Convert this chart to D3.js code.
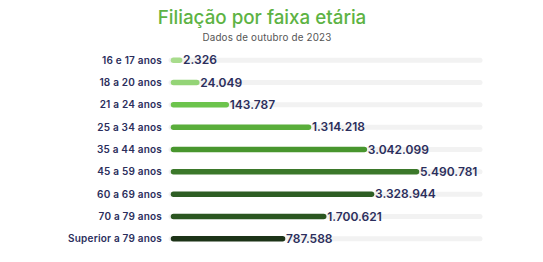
<!DOCTYPE html>
<html>
<head>
<meta charset="utf-8">
<script src="https://cdn.jsdelivr.net/npm/d3@7"></script>
<style>
  body { margin: 0; background: #fff; }
  text { font-family: "Inter", "Noto Sans", sans-serif; }
</style>
</head>
<body>
<div id="chart"></div>
<script>
const categories = ["16 e 17 anos", "18 a 20 anos", "21 a 24 anos", "25 a 34 anos", "35 a 44 anos",
  "45 a 59 anos", "60 a 69 anos", "70 a 79 anos", "Superior a 79 anos"];
const values = [2326, 24049, 143787, 1314218, 3042099, 5490781, 3328944, 1700621, 787588];
const colors = ["#a8dc8c", "#94d477", "#6cc44c", "#5aae3b", "#48962e", "#3b782a", "#2e5e24", "#2b5621", "#1c3317"];

const width = 543, height = 262;
const left = 171, trackEnd = 480;

const svg = d3.select("#chart").append("svg")
  .attr("width", width).attr("height", height);

svg.append("text")
  .attr("x", 262).attr("y", 24)
  .attr("text-anchor", "middle")
  .attr("fill", "#5db344")
  .style("font-size", "18.8px")
  .style("font-weight", 500)
  .text("Filiação por faixa etária");

svg.append("text")
  .attr("x", 267).attr("y", 41)
  .attr("text-anchor", "middle")
  .attr("fill", "#555")
  .style("font-size", "9.8px")
  .style("letter-spacing", "0.2px")
  .text("Dados de outubro de 2023");

const y = d3.scaleBand()
  .domain(categories)
  .range([49, 250])
  .padding(0);

// bars look compressed for big values, a power scale fits the picture well
const x = d3.scalePow().exponent(0.4)
  .domain([0, d3.max(values)])
  .range([0, 248]);

const rows = svg.append("g").selectAll("g")
  .data(categories)
  .join("g")
  .attr("transform", d => `translate(0,${y(d) + y.bandwidth() / 2})`);

rows.append("line")
  .attr("x1", left).attr("x2", trackEnd)
  .attr("stroke", "#f2f2f2")
  .attr("stroke-width", 5)
  .attr("stroke-linecap", "round");

rows.append("line")
  .attr("x1", left + 2.5)
  .attr("x2", (d, i) => left + Math.max(x(values[i]) - 2.5, 2.5))
  .attr("stroke", (d, i) => colors[i])
  .attr("stroke-width", 5.5)
  .attr("stroke-linecap", "round");

rows.append("text")
  .attr("x", 162).attr("dy", "0.35em")
  .attr("text-anchor", "end")
  .attr("fill", "#2b2e5c")
  .style("font-size", "10px")
  .style("font-weight", 600)
  .style("letter-spacing", "0.2px")
  .text(d => d);

const fmt = d3.formatLocale({ decimal: ",", thousands: ".", grouping: [3], currency: ["", ""] }).format(",d");

rows.append("text")
  .attr("x", (d, i) => left + Math.max(x(values[i]), 5) + 1)
  .attr("dy", "0.35em")
  .attr("fill", "#2b2e5c")
  .style("font-size", "12px")
  .style("font-weight", 600)
  .text((d, i) => fmt(values[i]));
</script>
</body>
</html>
